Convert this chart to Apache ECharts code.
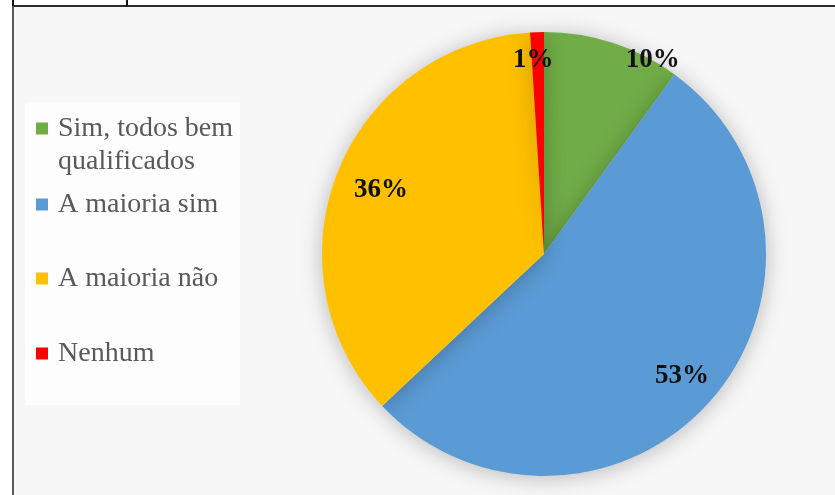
<!DOCTYPE html>
<html>
<head>
<meta charset="utf-8">
<script src="https://cdn.jsdelivr.net/npm/echarts@6/dist/echarts.min.js"></script>
<style>
  html, body { margin: 0; padding: 0; background: #ffffff; }
  #bg { position: absolute; left: 12px; top: 5px; width: 823px; height: 490px;
        border-top: 2px solid #2b2b2b; border-left: 2px solid #5a5a5a; background: #f7f7f7; }
  .tick { position: absolute; top: 0; width: 2px; height: 6px; background: #111; }
  #chart { position: absolute; left: 0; top: 0; width: 835px; height: 495px; }
</style>
</head>
<body>
<div id="bg"></div>
<div class="tick" style="left:12px"></div>
<div class="tick" style="left:126px"></div>
<div id="chart"></div>
<script>
const categories = ['Sim, todos bem qualificados', 'A maioria sim', 'A maioria não', 'Nenhum'];
const legendLines = [['', 'Sim, todos bem', 'qualificados'], ['A maioria sim'], ['A maioria não'], ['Nenhum']];
const values = [10, 53, 36, 1];
const colors = ['#70AD47', '#5B9BD5', '#FFC000', '#FF0000'];

const chart = echarts.init(document.getElementById('chart'), null, { renderer: 'canvas' });

const pieData = categories.map((c, i) => ({ name: c, value: values[i], itemStyle: { color: colors[i] } }));
const labelData = categories.map((c, i) => ({ name: c, value: values[i] }));

const LH = 33;
const legendTops = [79, 188, 262, 337];
const legends = categories.map((c, i) => ({
  data: [c],
  left: 36,
  top: legendTops[i],
  padding: 0,
  orient: 'vertical',
  itemWidth: 12,
  itemHeight: 12,
  icon: 'rect',
  selectedMode: false,
  formatter: () => legendLines[i].map(s => '{g| }{t|' + s + '}').join('\n'),
  textStyle: {
    fontFamily: 'Liberation Serif', fontSize: 28, color: '#595959', lineHeight: LH,
    rich: {
      g: { width: 5, fontSize: 28, lineHeight: LH },
      t: { fontFamily: 'Liberation Serif', fontSize: 28, color: '#595959', lineHeight: LH }
    }
  }
}));

chart.setOption({
  backgroundColor: 'transparent',
  animation: false,
  graphic: [{
    type: 'rect', left: 25, top: 102, z: -1,
    shape: { width: 215, height: 303 },
    style: { fill: '#fdfdfd' }, silent: true
  }],
  legend: legends,
  series: [
    {
      type: 'pie',
      name: 'main',
      center: [544, 254],
      radius: 222,
      startAngle: 90,
      clockwise: true,
      data: pieData,
      label: { show: false },
      labelLine: { show: false },
      itemStyle: { shadowBlur: 22, shadowColor: 'rgba(0,0,0,0.25)', shadowOffsetY: 2 },
      emphasis: { disabled: true }
    },
    {
      type: 'pie',
      name: 'labels',
      center: [544, 254],
      radius: [142, 220],
      startAngle: 90,
      clockwise: true,
      silent: true,
      data: labelData,
      itemStyle: { color: 'rgba(0,0,0,0)' },
      label: {
        show: true,
        position: 'inside',
        formatter: p => p.value + '%',
        fontFamily: 'Liberation Serif',
        fontWeight: 'bold',
        fontSize: 27,
        color: '#111'
      },
      labelLayout: function (p) {
        if (p.dataIndex === 0) return { dx: 52, dy: -19 };
        if (p.dataIndex === 2) return { dx: 8, dy: 4 };
        if (p.dataIndex === 3) return { dx: -5, dy: -10 };
        return {};
      },
      labelLine: { show: false },
      emphasis: { disabled: true }
    }
  ]
});
</script>
</body>
</html>
